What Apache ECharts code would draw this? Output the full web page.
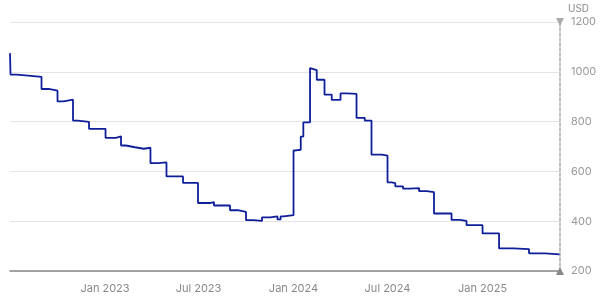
<!DOCTYPE html>
<html>
<head>
<meta charset="utf-8">
<script src="https://cdn.jsdelivr.net/npm/echarts@6/dist/echarts.min.js"></script>
<style>
html,body{margin:0;padding:0;background:#fff;}
#chart{width:600px;height:302px;}
</style>
</head>
<body>
<div id="chart"></div>
<script>
// Step dates (value starts on that date) and prices in USD
const dates = [
  '2022-07-01','2022-07-02','2022-07-14','2022-07-31','2022-08-03','2022-08-31','2022-09-14',
  '2022-10-01','2022-10-13','2022-10-31','2022-11-09','2022-12-01',
  '2023-01-02','2023-01-22','2023-02-01','2023-02-10','2023-02-28','2023-03-17','2023-03-30',
  '2023-04-14','2023-04-30','2023-06-01','2023-06-30','2023-07-23','2023-07-31','2023-08-31',
  '2023-09-15','2023-10-01','2023-10-15','2023-11-01','2023-11-17','2023-12-01','2023-12-07',
  '2023-12-13','2024-01-01','2024-01-05','2024-01-15','2024-01-20','2024-02-02','2024-02-05',
  '2024-02-15','2024-03-01','2024-03-15','2024-04-01','2024-04-13','2024-05-02','2024-05-18',
  '2024-05-31','2024-06-20','2024-07-01','2024-07-09','2024-07-16','2024-07-31','2024-08-13',
  '2024-08-31','2024-09-15','2024-09-29','2024-11-02','2024-11-18','2024-12-01','2025-01-01',
  '2025-02-02','2025-03-02','2025-04-01','2025-05-02','2025-05-30'
];
const prices = [
  1075, 989, 986, 990, 980, 931, 924,
  881, 888, 804, 799, 771,
  735, 741, 704, 697, 691, 695, 633,
  636, 580, 554, 473, 477, 463, 444,
  437, 404, 401, 415, 419, 407, 419,
  424, 684, 687, 740, 797, 1015, 1007,
  968, 908, 887, 913, 911, 815, 804,
  667, 663, 556, 553, 540, 531, 533,
  521, 517, 431, 405, 401, 384, 351,
  291, 288, 271, 267, 267
];
const xMin = '2022-07-01';
const xMax = '2025-05-31';
const yTicks = [200, 400, 600, 800, 1000, 1200];
const yName = 'USD';
const monthNames = ['Jan','Feb','Mar','Apr','May','Jun','Jul','Aug','Sep','Oct','Nov','Dec'];
const xMinTs = new Date(2022, 6, 1).getTime();

const chart = echarts.init(document.getElementById('chart'), null, {renderer: 'canvas'});
chart.setOption({
  animation: false,
  textStyle: {fontFamily: 'Inter, Roboto, sans-serif'},
  grid: {left: 10, right: 40, top: 22, bottom: 31, containLabel: false, outerBoundsMode: 'none'},
  xAxis: {
    type: 'time',
    min: xMin,
    max: xMax,
    minInterval: 180 * 86400000,
    maxInterval: 184 * 86400000,
    axisLine: {
      show: true, onZero: false,
      lineStyle: {color: '#888', width: 1.5},
      symbol: ['none', 'path://M0,5 L10,0 L10,10 Z'],
      symbolSize: [8, 8]
    },
    axisTick: {show: false},
    splitLine: {show: false},
    axisLabel: {
      color: '#888', fontSize: 11, margin: 12,
      showMinLabel: false, showMaxLabel: false,
      formatter: function (v) {
        const d = new Date(v);
        const m = d.getMonth();
        if (v <= xMinTs + 86400000) return '';
        if (d.getDate() !== 1 || (m !== 0 && m !== 6)) return '';
        return monthNames[m] + ' ' + d.getFullYear();
      }
    }
  },
  yAxis: {
    type: 'value',
    position: 'right',
    min: yTicks[0],
    max: yTicks[yTicks.length - 1],
    interval: yTicks[1] - yTicks[0],
    name: yName,
    nameLocation: 'end',
    nameGap: 8,
    nameTextStyle: {color: '#888', fontSize: 10, align: 'left', padding: [0, 0, 0, 8]},
    axisLine: {
      show: true,
      lineStyle: {color: '#aaa', width: 1.5, type: [3, 2]},
      symbol: ['none', 'path://M0,0 L10,0 L5,10 Z'],
      symbolSize: [8, 8]
    },
    axisTick: {show: false},
    axisLabel: {color: '#999', fontSize: 11, margin: 11, formatter: function (v) { return String(v); }},
    splitLine: {show: true, lineStyle: {color: '#e4e4e4', width: 1}}
  },
  series: [{
    type: 'line',
    step: 'end',
    showSymbol: false,
    symbol: 'none',
    data: dates.map((d, i) => [d, prices[i]]),
    lineStyle: {color: '#0f1f9a', width: 1.8},
    z: 3
  }]
});
</script>
</body>
</html>
